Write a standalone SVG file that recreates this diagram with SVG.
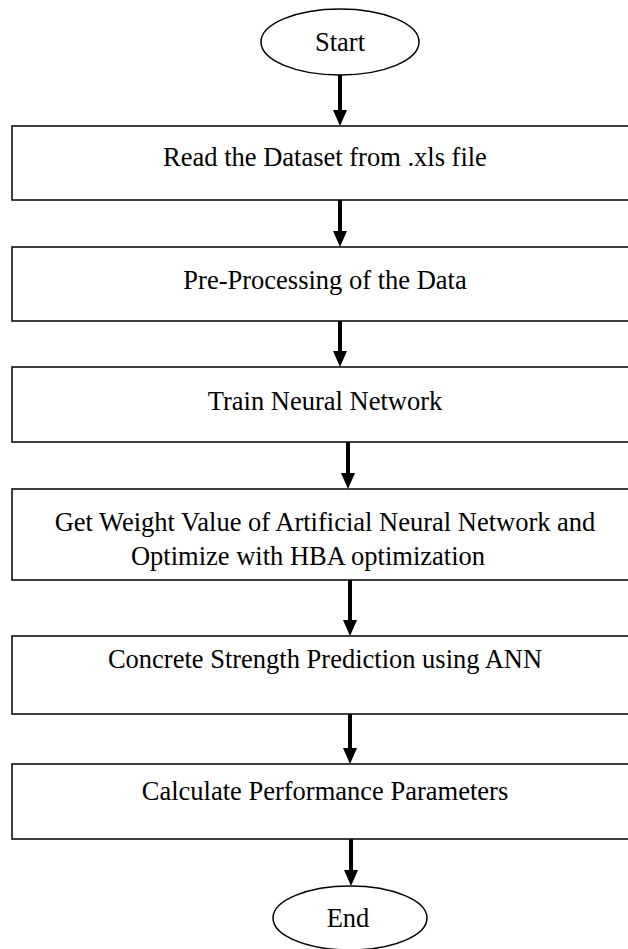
<svg xmlns="http://www.w3.org/2000/svg" width="628" height="949" viewBox="0 0 628 949">
<defs>
<style>
.box{fill:#fff;stroke:#000;stroke-width:1.5}
.ell{fill:#fff;stroke:#000;stroke-width:1.5}
.t{font-family:"Liberation Serif","Times New Roman",serif;font-size:26.5px;fill:#000;text-anchor:middle}
.c{stroke:#000;stroke-width:4;fill:none}
.h{fill:#000}
</style>
</defs>
<rect width="628" height="949" fill="#fff"/>
<g id="connectors">
<line class="c" x1="340" y1="75" x2="340" y2="110"/><path class="h" d="M333,110 L347,110 L340,126 Z"/>
<line class="c" x1="340" y1="200" x2="340" y2="231"/><path class="h" d="M333,231 L347,231 L340,247 Z"/>
<line class="c" x1="340" y1="321" x2="340" y2="351"/><path class="h" d="M333,351 L347,351 L340,367 Z"/>
<line class="c" x1="348" y1="442" x2="348" y2="473"/><path class="h" d="M341,473 L355,473 L348,489 Z"/>
<line class="c" x1="350" y1="580" x2="350" y2="620"/><path class="h" d="M343,620 L357,620 L350,636 Z"/>
<line class="c" x1="350" y1="714" x2="350" y2="748"/><path class="h" d="M343,748 L357,748 L350,764 Z"/>
<line class="c" x1="351" y1="839" x2="351" y2="870"/><path class="h" d="M344,870 L358,870 L351,886 Z"/>
</g>
<g id="start">
<ellipse class="ell" cx="340" cy="42" rx="79" ry="33"/>
<text class="t" x="340" y="51">Start</text>
</g>
<g id="read">
<rect class="box" x="12" y="126" width="630" height="74"/>
<text class="t" x="325" y="166">Read the Dataset from .xls file</text>
</g>
<g id="preprocess">
<rect class="box" x="12" y="247" width="630" height="74"/>
<text class="t" x="325" y="289">Pre-Processing of the Data</text>
</g>
<g id="train">
<rect class="box" x="12" y="367" width="630" height="75"/>
<text class="t" x="325" y="410">Train Neural Network</text>
</g>
<g id="optimize">
<rect class="box" x="12" y="489" width="630" height="91"/>
<text class="t" x="325" y="531">Get Weight Value of Artificial Neural Network and</text>
<text class="t" x="308" y="565">Optimize with HBA optimization</text>
</g>
<g id="predict">
<rect class="box" x="12" y="636" width="630" height="78"/>
<text class="t" x="325" y="668">Concrete Strength Prediction using ANN</text>
</g>
<g id="calc">
<rect class="box" x="12" y="764" width="630" height="75"/>
<text class="t" x="325" y="800">Calculate Performance Parameters</text>
</g>
<g id="end">
<ellipse class="ell" cx="350" cy="918" rx="77" ry="32"/>
<text class="t" x="348" y="927">End</text>
</g>
</svg>
